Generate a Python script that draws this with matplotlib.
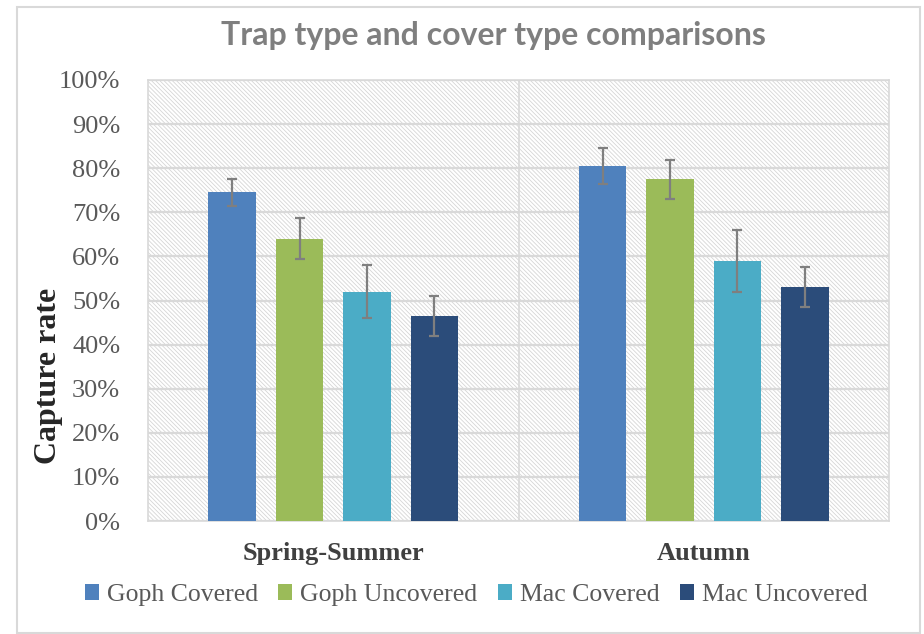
import matplotlib
matplotlib.use("Agg")
import matplotlib.pyplot as plt
from matplotlib.patches import Rectangle
from matplotlib.ticker import PercentFormatter
import numpy as np

categories = ["Spring-Summer", "Autumn"]
series = ["Goph Covered", "Goph Uncovered", "Mac Covered", "Mac Uncovered"]
values = {
    "Goph Covered":   [74.5, 80.5],
    "Goph Uncovered": [64.0, 77.5],
    "Mac Covered":    [52.0, 59.0],
    "Mac Uncovered":  [46.5, 53.0],
}
errors = {
    "Goph Covered":   [3.0, 4.0],
    "Goph Uncovered": [4.7, 4.4],
    "Mac Covered":    [6.0, 7.0],
    "Mac Uncovered":  [4.5, 4.5],
}
colors = ["#4F81BD", "#9BBB59", "#4BACC6", "#2B4C7A"]
yticks = list(range(0, 101, 10))

plt.rcParams['hatch.linewidth'] = 0.6
plt.rcParams['hatch.color'] = '#d6d6d6'

fig = plt.figure(figsize=(9.24, 6.34), dpi=100)
# outer chart border
fig.patches.append(Rectangle((17/924, 1-633/634), (920-17)/924, (633-7)/634,
                             transform=fig.transFigure, fill=False,
                             edgecolor='#d9d9d9', linewidth=1.5))

ax = fig.add_axes([148/924, 1-521/634, (889-148)/924, (521-80)/634])
ax.set_xlim(-0.5, len(categories)-0.5)
ax.set_ylim(0, 100)

# hatched plot background
ax.add_patch(Rectangle((0, 0), 1, 1, transform=ax.transAxes, facecolor='white',
                       edgecolor='#d6d6d6', hatch='\\' * 8, linewidth=0, zorder=0))

ax.set_yticks(yticks)
ax.yaxis.set_major_formatter(PercentFormatter(decimals=0))
ax.grid(axis='y', color='#d9d9d9', linewidth=1.6, zorder=1)
ax.set_axisbelow(True)
ax.axvline(0.5, color='#d9d9d9', linewidth=1.2, zorder=1)
for s in ax.spines.values():
    s.set_color('#d9d9d9')
    s.set_linewidth(1.2)

x = np.arange(len(categories))
step = 0.182
width = 0.128
for i, name in enumerate(series):
    ax.bar(x + (i - 1.5) * step, values[name], width=width, color=colors[i],
           yerr=errors[name], capsize=3.3,
           error_kw=dict(ecolor='#7f7f7f', elinewidth=1.6, capthick=1.6),
           label=name, zorder=3)

ax.set_xticks(x)
ax.set_xticklabels(categories, fontfamily='Liberation Serif', fontweight='bold',
                   fontsize=19, color='#404040')
ax.tick_params(axis='x', length=0, pad=15)
ax.tick_params(axis='y', length=0, pad=20, labelsize=19, labelcolor='#595959')
for lab in ax.get_yticklabels():
    lab.set_fontfamily('Liberation Serif')

ax.set_ylabel("Capture rate", fontfamily='Liberation Serif', fontweight='bold',
              fontsize=23, color='#262626')
ax.yaxis.set_label_coords((63-148)/741, (521-376)/441)

fig.text(493/924, 1-36/634, "Trap type and cover type comparisons",
         ha='center', va='center', fontfamily='Lato', fontweight='bold',
         fontsize=23, color='#7f7f7f')

leg = fig.legend(loc='center', bbox_to_anchor=(476/924, 1-595/634), ncol=4,
                 frameon=False, prop={'family': 'Liberation Serif', 'size': 18.5},
                 handlelength=0.55, handleheight=0.55, handletextpad=0.3,
                 columnspacing=0.8, labelcolor='#595959')

fig.savefig("out.png", dpi=100)
